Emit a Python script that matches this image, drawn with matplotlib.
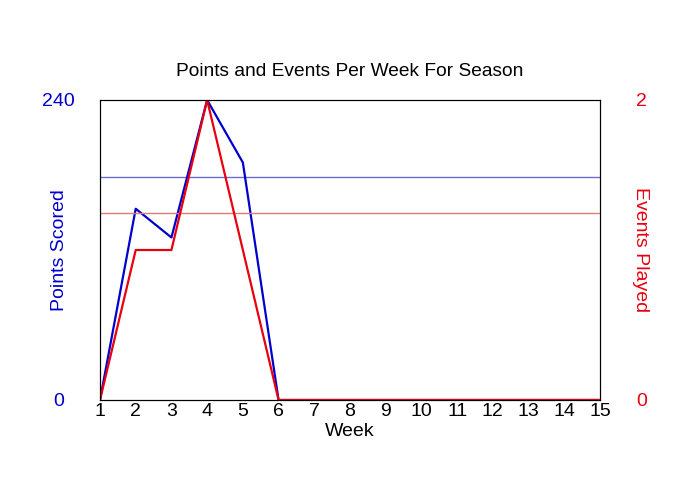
import matplotlib
matplotlib.use("Agg")
import matplotlib.pyplot as plt

weeks = list(range(1, 16))
points = [0, 153, 130, 240, 190, 0, 0, 0, 0, 0, 0, 0, 0, 0, 0]
events = [0, 1, 1, 2, 1, 0, 0, 0, 0, 0, 0, 0, 0, 0, 0]
avg_points = 178.25
avg_events = 1.25

plt.rcParams['font.family'] = ['Liberation Sans', 'DejaVu Sans']

fig = plt.figure(figsize=(7, 5), dpi=100)
ax = fig.add_axes([100/700, 100/500, 500/700, 300/500])
ax2 = ax.twinx()

blue = '#0000CC'
red = '#E8000F'
fs = 14

ax.axhline(avg_points, color='#6B6BD0', lw=1.0)
ax.plot(weeks, points, color=blue, lw=1.6)
ax2.axhline(avg_events, color='#E07A7A', lw=1.0)
ax2.plot(weeks, events, color=red, lw=1.6)

ax.set_xlim(1, 15)
ax.set_ylim(0, 240)
ax2.set_ylim(0, 2)
ax.set_xticks(weeks)
ax.set_yticks([0, 240])
ax2.set_yticks([0, 2])

ax.tick_params(axis='x', length=0, pad=2, labelsize=fs)
ax.tick_params(axis='y', length=0, pad=30, labelsize=fs, labelcolor=blue)
ax2.tick_params(axis='y', length=0, pad=30, labelsize=fs, labelcolor=red)
for t in ax.get_yticklabels():
    t.set_ha('center')
for t in ax2.get_yticklabels():
    t.set_ha('center')

ax.set_xlabel('Week', fontsize=fs, labelpad=2)
ax.set_ylabel('Points Scored', fontsize=fs, color=blue)
ax2.set_ylabel('Events Played', fontsize=fs, color=red, rotation=270)
ax.yaxis.set_label_coords(-0.08, 0.5)
ax2.yaxis.set_label_coords(1.08, 0.5)
ax2.yaxis.label.set_va('center')
ax.yaxis.label.set_va('center')

ax.set_title('Points and Events Per Week For Season', fontsize=13.8, pad=17)

for a in (ax, ax2):
    for s in a.spines.values():
        s.set_linewidth(0.8)

fig.savefig('out.png', dpi=100)
